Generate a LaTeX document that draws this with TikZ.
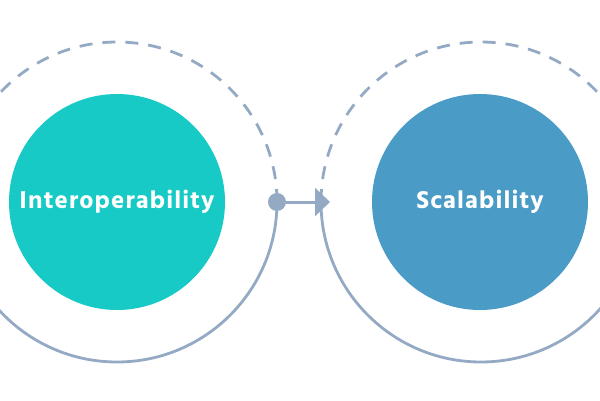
\documentclass[tikz,border=0pt]{standalone}
\usepackage{fontspec}
\setmainfont{Hind Siliguri}[BoldFont={Hind Siliguri Bold}]
\newfontfamily\labelfont{Hind Siliguri Bold}[LetterSpace=4.5]
\usetikzlibrary{arrows.meta}
\definecolor{ringcol}{HTML}{94AAC4}
\definecolor{tealc}{HTML}{17CAC6}
\definecolor{bluec}{HTML}{4A9CC6}
\tikzset{
  ringdash/.style={draw=ringcol, line width=2.8pt, dash pattern=on 13pt off 10pt},
  ringsolid/.style={draw=ringcol, line width=2.8pt},
  bigdisc/.style={circle, minimum size=216pt, inner sep=0pt, text=white, font=\labelfont\fontsize{25}{29}\selectfont},
  joint/.style={circle, fill=ringcol, minimum size=18pt, inner sep=0pt},
}
\begin{document}
\begin{tikzpicture}[x=1pt,y=1pt]
\useasboundingbox (0,0) rectangle (600,400);
\clip (0,0) rectangle (600,400);
\fill[white] (0,0) rectangle (600,400);
% outer rings
\draw[ringdash] (117,198) ++(0:160) arc (0:180:160);
\draw[ringsolid] (117,198) ++(180:160) arc (180:360:160);
\draw[ringdash] (481,198) ++(180:160) arc (180:0:160);
\draw[ringsolid] (481,198) ++(180:160) arc (180:360:160);
% discs
\node[bigdisc, fill=tealc] (interop) at (117,198) {Interoperability};
\node[bigdisc, fill=bluec] (scal) at (480,198) {Scalability};
% connector
\node[joint] (dot) at (277,198) {};
\coordinate (tip) at (330,198);
\draw[ringcol, line width=3pt, -{Triangle[length=15pt,width=28pt]}] (dot) -- (tip);
\end{tikzpicture}
\end{document}
